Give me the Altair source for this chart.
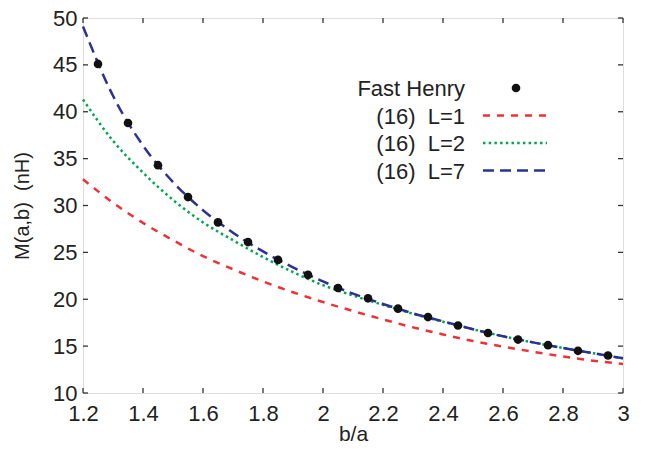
import altair as alt
import pandas as pd

# ---- data ----
fh_x = [1.25, 1.35, 1.45, 1.55, 1.65, 1.75, 1.85, 1.95, 2.05, 2.15,
        2.25, 2.35, 2.45, 2.55, 2.65, 2.75, 2.85, 2.95]
fh_y = [45.1, 38.8, 34.3, 30.9, 28.2, 26.1, 24.2, 22.6, 21.2, 20.1,
        19.0, 18.1, 17.2, 16.4, 15.7, 15.1, 14.5, 14.0]

curve_x = [1.2, 1.3, 1.4, 1.5, 1.6, 1.7, 1.8, 1.9, 2.0, 2.1,
           2.2, 2.3, 2.4, 2.5, 2.6, 2.7, 2.8, 2.9, 3.0]
l1_y = [32.8, 30.3, 28.15, 26.3, 24.6, 23.2, 21.9, 20.75, 19.7, 18.75,
        17.85, 17.0, 16.25, 15.55, 14.95, 14.4, 13.9, 13.45, 13.1]
l2_y = [41.3, 36.9, 33.5, 30.6, 28.2, 26.3, 24.5, 22.9, 21.5, 20.4,
        19.4, 18.45, 17.6, 16.8, 16.05, 15.4, 14.8, 14.25, 13.7]
l7_y = [49.1, 41.7, 36.4, 32.5, 29.5, 27.1, 25.1, 23.4, 21.9, 20.6,
        19.5, 18.5, 17.65, 16.8, 16.05, 15.4, 14.8, 14.25, 13.7]

x_ticks = [1.2, 1.4, 1.6, 1.8, 2.0, 2.2, 2.4, 2.6, 2.8, 3.0]
y_ticks = [10, 15, 20, 25, 30, 35, 40, 45, 50]

NB = "\u00a0"
legend_labels = ["Fast Henry", f"(16){NB}{NB}L=1", f"(16){NB}{NB}L=2", f"(16){NB}{NB}L=7"]
colors = {"L1": "#ee3136", "L2": "#00a651", "L7": "#2e3192"}

FONT = "Liberation Sans"
W, H = 540, 375

xs = alt.Scale(domain=[1.2, 3.0], nice=False, zero=False)
ys = alt.Scale(domain=[10, 50], nice=False, zero=False)

fh_df = pd.DataFrame({"x": fh_x, "y": fh_y})
curves = pd.DataFrame({"x": curve_x, "l1": l1_y, "l2": l2_y, "l7": l7_y})
xt_df = pd.DataFrame({"x": x_ticks})
yt_df = pd.DataFrame({"y": y_ticks})

xax = alt.X("x:Q", scale=xs, title="b/a",
            axis=alt.Axis(values=x_ticks, format="~g", ticks=False, domain=False,
                          grid=False, labelFontSize=22, labelPadding=10, labelFlush=False,
                          labelColor="#222", titleFontSize=21, titleFontWeight="normal",
                          titleColor="#222", titleY=47, titleBaseline="alphabetic",
                          labelFont=FONT, titleFont=FONT))
yax_title = f"M(a,b){NB}{NB}(nH)"


def line(col, color, dash):
    return alt.Chart(curves).mark_line(color=color, strokeWidth=2.5, strokeDash=dash,
                                       interpolate="monotone").encode(
        x=alt.X("x:Q", scale=xs),
        y=alt.Y(f"{col}:Q", scale=ys))


base_axes = alt.Chart(fh_df).mark_point(opacity=0).encode(
    x=xax,
    y=alt.Y("y:Q", scale=ys, title=yax_title,
            axis=alt.Axis(values=y_ticks, format="d", ticks=False, domain=False,
                          grid=False, labelFontSize=22, labelPadding=6, labelFlush=False,
                          labelColor="#222", titleFontSize=20, titleFontWeight="normal",
                          titleColor="#222", titlePadding=20, labelFont=FONT, titleFont=FONT)))

l1 = line("l1", colors["L1"], [7, 7])
l2 = line("l2", colors["L2"], [2.5, 3.2])
l7 = line("l7", colors["L7"], [11, 6])

pts = alt.Chart(fh_df).mark_circle(color="#111", size=75, opacity=1).encode(
    x=alt.X("x:Q", scale=xs), y=alt.Y("y:Q", scale=ys))

tick_style = dict(color="#333", strokeWidth=1.3)
xt_bottom = alt.Chart(xt_df).mark_rule(**tick_style).encode(
    x=alt.X("x:Q", scale=xs), y=alt.value(H), y2=alt.value(H - 5))
xt_top = alt.Chart(xt_df).mark_rule(**tick_style).encode(
    x=alt.X("x:Q", scale=xs), y=alt.value(0), y2=alt.value(5))
yt_left = alt.Chart(yt_df).mark_rule(**tick_style).encode(
    y=alt.Y("y:Q", scale=ys), x=alt.value(0), x2=alt.value(5))
yt_right = alt.Chart(yt_df).mark_rule(**tick_style).encode(
    y=alt.Y("y:Q", scale=ys), x=alt.value(W), x2=alt.value(W - 5))

# ---- legend (inside the plot, labels left of samples) ----
leg_x_text = 382
leg_rows = [70, 97.5, 125, 152.5]
leg_layers = []
for lab, yy in zip(legend_labels, leg_rows):
    leg_layers.append(
        alt.Chart(pd.DataFrame({"t": [lab]})).mark_text(
            align="right", baseline="middle", fontSize=22, font=FONT, color="#222"
        ).encode(text="t:N", x=alt.value(leg_x_text), y=alt.value(yy + 1)))
leg_layers.append(alt.Chart(pd.DataFrame({"a": [0]})).mark_circle(
    color="#111", size=75, opacity=1).encode(x=alt.value(433), y=alt.value(leg_rows[0])))
for key, dash, yy in [("L1", [7, 7], leg_rows[1]), ("L2", [2.5, 3.2], leg_rows[2]),
                      ("L7", [11, 6], leg_rows[3])]:
    leg_layers.append(alt.Chart(pd.DataFrame({"a": [0]})).mark_rule(
        color=colors[key], strokeWidth=2.5, strokeDash=dash).encode(
        x=alt.value(400), x2=alt.value(464), y=alt.value(yy)))

chart = alt.layer(base_axes, l1, l2, l7, pts, xt_bottom, xt_top, yt_left, yt_right,
                  *leg_layers).properties(
    width=W, height=H,
    autosize=alt.AutoSizeParams(type="none"),
    padding={"left": 75, "top": 10, "right": 25, "bottom": 48},
).configure_view(stroke="#222", strokeWidth=1.6).configure(background="white")

chart.save("out.html", embed_options={"renderer": "svg", "actions": False})
